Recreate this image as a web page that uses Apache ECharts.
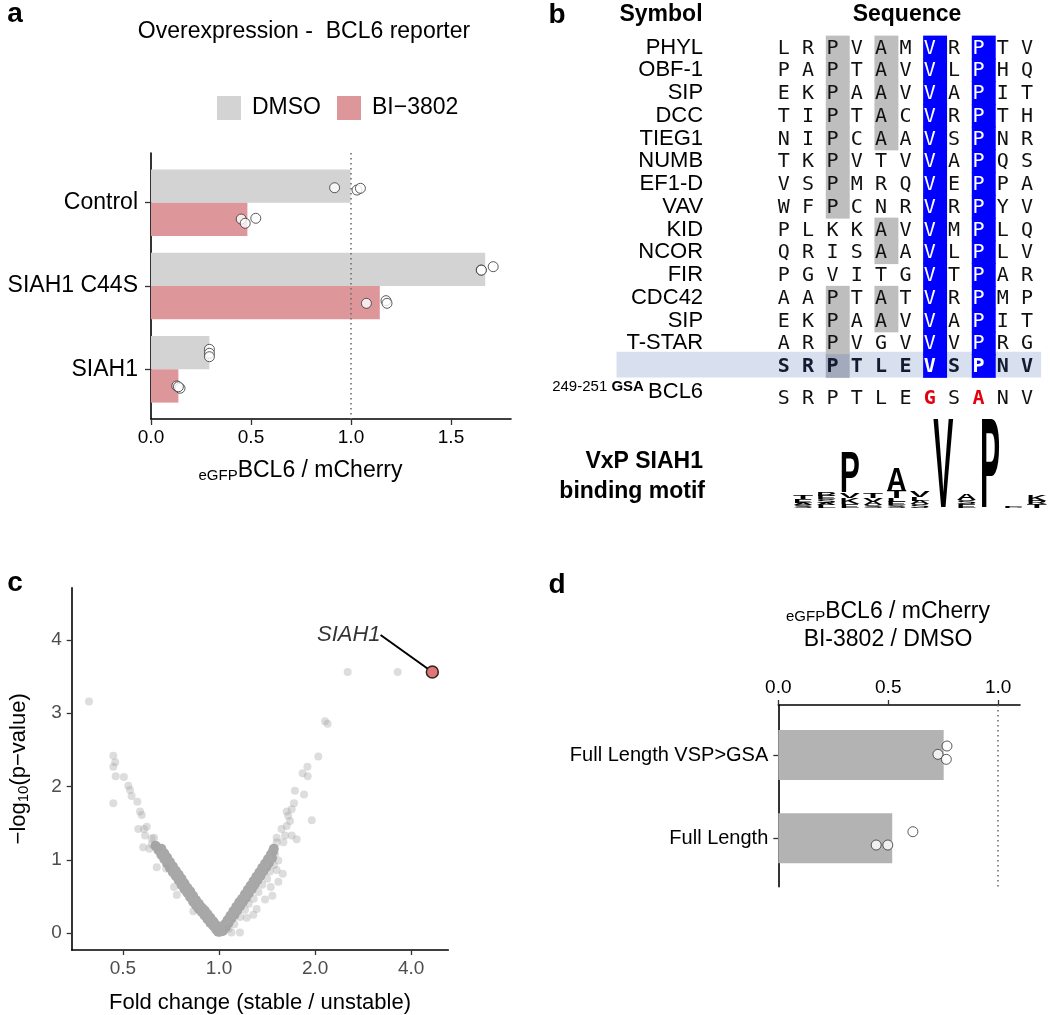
<!DOCTYPE html>
<html>
<head>
<meta charset="utf-8">
<script src="https://cdn.jsdelivr.net/npm/echarts@6/dist/echarts.min.js"></script>
<style>
  html, body { margin: 0; padding: 0; background: #fff; }
  #main { width: 1050px; height: 1015px; }
</style>
</head>
<body>
<div id="main"></div>
<script>
// ---- panel a : overexpression, BCL6 reporter
var aCategories = ['Control', 'SIAH1 C44S', 'SIAH1'];
var aDmso = [0.998, 1.671, 0.292];
var aBi = [0.482, 1.144, 0.137];
var aDmsoDots = [[0.918, 1.030, 1.047], [1.651, 1.652, 1.711], [0.292, 0.292, 0.292]];
var aDmsoJitter = [[-0.18, -0.152, -0.173], [-0.192, -0.19, -0.232], [-0.24, -0.192, -0.151]];
var aBiDots = [[0.451, 0.471, 0.524], [1.077, 1.175, 1.180], [0.129, 0.145, 0.137]];
var aBiJitter = [[0.196, 0.247, 0.187], [0.208, 0.176, 0.208], [0.2, 0.228, 0.21]];
var aTicks = [0, 0.5, 1, 1.5];

// ---- panel b : alignment + motif logo
var alignSymbols = ['PHYL', 'OBF-1', 'SIP', 'DCC', 'TIEG1', 'NUMB', 'EF1-D', 'VAV', 'KID', 'NCOR', 'FIR', 'CDC42', 'SIP', 'T-STAR', 'BCL6'];
var alignSeqs = ['LRPVAMVRPTV', 'PAPTAVVLPHQ', 'EKPAAVVAPIT', 'TIPTACVRPTH', 'NIPCAAVSPNR', 'TKPVTVVAPQS', 'VSPMRQVEPPA',
  'WFPCNRVRPYV', 'PLKKAVVMPLQ', 'QRISAAVLPLV', 'PGVITGVTPAR', 'AAPTATVRPMP', 'EKPAAVVAPIT', 'ARPVGVVVPRG', 'SRPTLEVSPNV'];
// g = grey box, b = blue box
var alignShade = ['..g.g.b.b..', '..g.g.b.b..', '..g.g.b.b..', '..g.g.b.b..', '..g.g.b.b..', '..g...b.b..', '..g...b.b..',
  '..g...b.b..', '....g.b.b..', '....g.b.b..', '......b.b..', '..g.g.b.b..', '..g.g.b.b..', '..g...b.b..', '..g...b.b..'];
var highlightRow = 14;
var gsaSeq = 'SRPTLEGSANV';
var gsaMarks = '......r.r..';
// motif logo, stacks bottom -> top, heights in bits
var logoColumns = [
  [['S', 0.10], ['A', 0.12], ['E', 0.14], ['T', 0.16]],
  [['L', 0.10], ['A', 0.12], ['S', 0.14], ['E', 0.14], ['R', 0.17]],
  [['E', 0.14], ['K', 0.28], ['V', 0.24], ['P', 1.79]],
  [['S', 0.12], ['A', 0.14], ['V', 0.18], ['T', 0.22]],
  [['S', 0.12], ['E', 0.14], ['L', 0.14], ['T', 0.33], ['A', 1.07]],
  [['S', 0.14], ['A', 0.16], ['L', 0.16], ['V', 0.30]],
  [['V', 4.0]],
  [['E', 0.14], ['S', 0.18], ['A', 0.30]],
  [['P', 4.0]],
  [['P', 0.05], ['E', 0.05]],
  [['T', 0.14], ['R', 0.14], ['K', 0.30]]
];

// ---- panel c : volcano, [log2 fold change, -log10 p]
var volcanoBulk = [
  [-0.01, 0.02], [-0.03, 0.05], [-0.06, 0.10], [-0.09, 0.14], [-0.12, 0.19], [-0.15, 0.24], [-0.18, 0.29], [-0.21, 0.33],
  [-0.24, 0.38], [-0.27, 0.43], [-0.30, 0.49], [-0.33, 0.55], [-0.36, 0.60], [-0.39, 0.66], [-0.42, 0.72], [-0.45, 0.78],
  [-0.48, 0.83], [-0.51, 0.89], [-0.54, 0.95], [-0.57, 1.01], [-0.60, 1.07], [-0.63, 1.13], [-0.66, 1.19],
  [0.00, 0.05], [-0.03, 0.11], [-0.06, 0.16], [-0.09, 0.21], [-0.12, 0.26], [-0.15, 0.31], [-0.18, 0.35], [-0.21, 0.40],
  [-0.24, 0.45], [-0.27, 0.51], [-0.30, 0.57], [-0.33, 0.62], [-0.36, 0.68], [-0.39, 0.74], [-0.42, 0.80], [-0.45, 0.85],
  [-0.48, 0.91], [-0.51, 0.97], [-0.54, 1.03], [-0.57, 1.09], [-0.60, 1.15],
  [0.01, 0.02], [0.03, 0.06], [0.06, 0.12], [0.09, 0.18], [0.12, 0.24], [0.15, 0.30], [0.18, 0.36], [0.21, 0.42],
  [0.24, 0.47], [0.27, 0.53], [0.30, 0.59], [0.33, 0.65], [0.36, 0.71], [0.39, 0.77], [0.42, 0.83], [0.45, 0.89],
  [0.48, 0.95], [0.51, 1.01], [0.54, 1.07], [0.56, 1.11], [0.57, 1.15],
  [0.04, 0.03], [0.07, 0.08], [0.10, 0.14], [0.13, 0.20], [0.16, 0.25], [0.19, 0.31], [0.22, 0.37], [0.25, 0.43],
  [0.28, 0.48], [0.31, 0.54], [0.34, 0.60], [0.37, 0.66], [0.40, 0.72], [0.43, 0.78], [0.46, 0.84], [0.49, 0.90],
  [0.52, 0.96], [0.55, 1.02]
];
var volcanoOther = [
  [-1.353, 3.16], [-1.10, 2.42], [-1.08, 2.33], [-1.10, 2.27], [-1.075, 2.14], [-0.99, 2.13], [-0.944, 2.01], [-0.926, 1.95],
  [-0.91, 1.87], [-0.85, 1.79], [-1.10, 1.77], [-0.822, 1.66], [-0.804, 1.61], [-0.84, 1.42], [-0.78, 1.42], [-0.752, 1.45],
  [-0.77, 1.33], [-0.70, 1.29], [-0.676, 1.30], [-0.79, 1.17], [-0.725, 1.15], [-0.70, 1.21], [-0.635, 1.17], [-0.648, 0.90],
  [-0.55, 0.88], [-0.468, 0.63], [-0.44, 0.52], [-0.267, 0.30],
  [1.339, 3.56], [1.859, 3.56], [1.103, 2.89], [1.13, 2.855], [1.033, 2.41], [0.92, 2.27], [0.87, 2.18], [0.923, 2.14],
  [0.79, 1.94], [0.885, 1.89], [0.78, 1.77], [0.965, 1.54], [0.756, 1.69], [0.704, 1.66], [0.72, 1.60], [0.739, 1.53],
  [0.704, 1.46], [0.65, 1.42], [0.60, 1.30], [0.687, 1.33], [0.756, 1.33], [0.808, 1.28], [0.60, 1.24], [0.67, 1.24],
  [0.583, 1.08], [0.617, 0.99], [0.60, 0.86], [0.663, 0.81], [0.617, 0.70], [0.538, 0.63], [0.555, 0.51], [0.479, 0.46],
  [0.392, 0.33], [0.357, 0.25], [0.288, 0.21], [0.218, 0.01], [0.13, 0.01],
  [0.10, 0.06], [0.16, 0.12], [0.22, 0.22], [0.27, 0.32], [0.31, 0.40], [0.36, 0.47], [0.41, 0.56], [0.45, 0.66],
  [0.50, 0.74], [0.53, 0.84], [0.57, 0.93]
];
var volcanoSiah1 = [2.22, 3.56];
var cXTicks = [-1, 0, 1, 2];
var cYTicks = [0, 1, 2, 3, 4];

// ---- panel d : BI-3802 / DMSO ratio
var dCategories = ['Full Length VSP>GSA', 'Full Length'];
var dRatio = [0.752, 0.518];
var dDots = [[0.767, 0.726, 0.764], [0.612, 0.445, 0.498]];
var dJitter = [[-0.108, -0.008, 0.052], [-0.08, 0.08, 0.08]];
var dTicks = [0, 0.5, 1];

var fontFamily = 'Liberation Sans';
var myChart = echarts.init(document.getElementById('main'));

function hBar(offset, half) {
  return function (params, api) {
    var p0 = api.coord([0, api.value(1) + offset - half]);
    var p1 = api.coord([api.value(0), api.value(1) + offset + half]);
    return {
      type: 'rect',
      shape: { x: p0[0], y: Math.min(p0[1], p1[1]), width: p1[0] - p0[0], height: Math.abs(p1[1] - p0[1]) },
      style: { fill: api.visual('color') }
    };
  };
}

function dots(values, jitter) {
  var out = [];
  values.forEach(function (row, i) {
    row.forEach(function (v, j) { out.push([v, i + 1 + jitter[i][j]]); });
  });
  return out;
}

var axisLineStyle = { color: '#000', width: 1.6 };
var tickStyle = { color: '#333', width: 1.3 };
var refLine = {
  silent: true, symbol: ['none', 'none'], label: { show: false },
  lineStyle: { type: [1.5, 3.5], color: '#6e6e6e', width: 1.6 },
  data: [{ xAxis: 1 }]
};
var dotStyle = { color: '#fff', borderColor: '#333', borderWidth: 1 };

// alignment cells
var cells = [];
alignSeqs.forEach(function (seq, r) {
  for (var c = 0; c < seq.length; c++) {
    cells.push({ col: c, row: r, letter: seq[c], shade: alignShade[r][c], hl: r === highlightRow });
  }
});
for (var c = 0; c < gsaSeq.length; c++) {
  cells.push({ col: c, row: 15.4, letter: gsaSeq[c], shade: gsaMarks[c], hl: false });
}
var alignRows = alignSymbols.map(function (s, i) { return i; }).concat([15.4]);

// logo stacks
var logoItems = [];
logoColumns.forEach(function (stack, c) {
  var base = 0;
  stack.forEach(function (s) {
    logoItems.push({ col: c, y0: base, y1: base + s[1], letter: s[0] });
    base += s[1];
  });
});
var glyphWidth = { A: 0.722, E: 0.667, I: 0.278, K: 0.722, L: 0.611, P: 0.667, R: 0.722, S: 0.667, T: 0.611, V: 0.667 };

var option = {
  animation: false,
  backgroundColor: '#fff',
  textStyle: { fontFamily: fontFamily },
  legend: {
    data: ['DMSO', 'BI\u22123802'],
    left: 212, top: 91,
    icon: 'rect', itemWidth: 24, itemHeight: 24, itemGap: 16,
    textStyle: { fontSize: 23, color: '#000', fontFamily: fontFamily, padding: [0, 0, 0, 6] }
  },
  grid: [
    { left: 151, top: 153, width: 360, height: 266 },
    { left: 71.7, top: 587.7, width: 376.6, height: 368.3 },
    { left: 778.3, top: 705, width: 241.7, height: 181.7 },
    { left: 777.1, top: 36.1, width: 267.7, height: 373.1 },
    { left: 791.3, top: 412, width: 257.1, height: 95.7 }
  ],
  xAxis: [
    {
      gridIndex: 0, type: 'value', min: 0, max: 1.8,
      axisLine: { show: true, onZero: false, lineStyle: axisLineStyle },
      axisTick: { show: true, length: 6, lineStyle: tickStyle, customValues: aTicks },
      axisLabel: { customValues: aTicks, formatter: function (v) { return v.toFixed(1); }, fontSize: 19, color: '#000', margin: 9 },
      splitLine: { show: false },
      name: '{s|eGFP}{m|BCL6 / mCherry}', nameLocation: 'middle', nameGap: 39,
      nameTextStyle: {
        color: '#000', padding: [0, 61, 0, 0],
        rich: { s: { fontSize: 15, padding: [10, 0, 0, 0], fontFamily: fontFamily }, m: { fontSize: 23, fontFamily: fontFamily } }
      }
    },
    {
      gridIndex: 1, type: 'value', min: -1.533, max: 2.386,
      axisLine: { show: true, onZero: false, lineStyle: axisLineStyle },
      axisTick: { show: true, length: 5, lineStyle: tickStyle, customValues: cXTicks },
      axisLabel: { customValues: cXTicks, formatter: function (v) { return Math.pow(2, v).toFixed(1); }, fontSize: 19, color: '#4d4d4d', margin: 9 },
      splitLine: { show: false },
      name: 'Fold change (stable / unstable)', nameLocation: 'middle', nameGap: 42,
      nameTextStyle: { fontSize: 22, color: '#000' }
    },
    {
      gridIndex: 2, type: 'value', min: 0, max: 1.099, position: 'top',
      axisLine: { show: true, onZero: false, lineStyle: axisLineStyle },
      axisTick: { show: true, length: 5, lineStyle: tickStyle, customValues: dTicks },
      axisLabel: { customValues: dTicks, formatter: function (v) { return v.toFixed(1); }, fontSize: 19, color: '#000', margin: 8 },
      splitLine: { show: false }
    },
    { gridIndex: 3, type: 'value', min: -0.5, max: 10.5, show: false },
    { gridIndex: 4, type: 'value', min: -0.5, max: 10.5, show: false }
  ],
  yAxis: [
    {
      gridIndex: 0, type: 'value', inverse: true, min: 0.403, max: 3.597,
      axisLine: { show: true, onZero: false, lineStyle: axisLineStyle },
      axisTick: { show: true, length: 6, lineStyle: tickStyle, customValues: [1, 2, 3] },
      axisLabel: { customValues: [1, 2, 3], formatter: function (v) { return aCategories[Math.round(v) - 1]; }, fontSize: 23, color: '#000', margin: 13 },
      splitLine: { show: false }
    },
    {
      gridIndex: 1, type: 'value', min: -0.23, max: 4.71,
      axisLine: { show: true, onZero: false, lineStyle: axisLineStyle },
      axisTick: { show: true, length: 5, lineStyle: tickStyle, customValues: cYTicks },
      axisLabel: { customValues: cYTicks, formatter: function (v) { return String(v); }, fontSize: 19, color: '#4d4d4d', margin: 10 },
      splitLine: { show: false },
      name: '\u2212log{s|10}(p\u2212value)', nameLocation: 'middle', nameGap: 40, nameRotate: 90,
      nameTextStyle: {
        fontSize: 22, color: '#000',
        rich: { s: { fontSize: 15, padding: [10, 0, 0, 0], fontFamily: fontFamily } }
      }
    },
    {
      gridIndex: 2, type: 'value', inverse: true, min: 0.4, max: 2.58,
      axisLine: { show: true, onZero: false, lineStyle: axisLineStyle },
      axisTick: { show: true, length: 5, lineStyle: tickStyle, customValues: [1, 2] },
      axisLabel: { customValues: [1, 2], formatter: function (v) { return dCategories[Math.round(v) - 1]; }, fontSize: 20, color: '#000', margin: 10 },
      splitLine: { show: false }
    },
    {
      gridIndex: 3, type: 'value', inverse: true, min: -0.5, max: 15.9,
      axisLine: { show: false }, axisTick: { show: false }, splitLine: { show: false },
      axisLabel: {
        customValues: alignRows, margin: 74, fontSize: 22, color: '#000',
        formatter: function (v) {
          if (v > 15) return '{n|249-251 }{b|GSA }{m|BCL6}';
          return alignSymbols[Math.round(v)];
        },
        rich: {
          n: { fontSize: 15, padding: [0, 0, 22, 0], fontFamily: fontFamily, color: '#000' },
          b: { fontSize: 15, fontWeight: 'bold', padding: [0, 0, 22, 0], fontFamily: fontFamily, color: '#000' },
          m: { fontSize: 22, padding: [0, 0, 12, 0], fontFamily: fontFamily, color: '#000' }
        }
      }
    },
    { gridIndex: 4, type: 'value', min: 0, max: 4.2, show: false }
  ],
  series: [
    {
      name: 'DMSO', type: 'custom', xAxisIndex: 0, yAxisIndex: 0,
      itemStyle: { color: '#d3d3d3' }, renderItem: hBar(-0.2, 0.2),
      encode: { x: 0, y: 1 }, data: aDmso.map(function (v, i) { return [v, i + 1]; })
    },
    {
      name: 'BI\u22123802', type: 'custom', xAxisIndex: 0, yAxisIndex: 0,
      itemStyle: { color: '#dd979b' }, renderItem: hBar(0.2, 0.2),
      encode: { x: 0, y: 1 }, data: aBi.map(function (v, i) { return [v, i + 1]; })
    },
    {
      type: 'scatter', xAxisIndex: 0, yAxisIndex: 0, symbolSize: 10, itemStyle: dotStyle, z: 5,
      data: dots(aDmsoDots, aDmsoJitter).concat(dots(aBiDots, aBiJitter)), markLine: refLine
    },
    {
      type: 'scatter', xAxisIndex: 1, yAxisIndex: 1, symbolSize: 10,
      itemStyle: { color: '#a8a8a8', opacity: 1 }, data: volcanoBulk
    },
    {
      type: 'scatter', xAxisIndex: 1, yAxisIndex: 1, symbolSize: 8,
      itemStyle: { color: 'rgba(160,160,160,0.45)' }, data: volcanoOther
    },
    {
      type: 'scatter', xAxisIndex: 1, yAxisIndex: 1, symbolSize: 12, z: 6,
      itemStyle: { color: '#d55451', borderColor: '#000', borderWidth: 1.5 },
      data: [volcanoSiah1],
      label: { show: true, formatter: 'SIAH1', position: 'left', fontSize: 22, fontStyle: 'italic', color: '#000' },
      labelLayout: { dx: -40, dy: -37 },
      labelLine: { show: true, lineStyle: { color: '#000', width: 2 } }
    },
    {
      type: 'custom', xAxisIndex: 2, yAxisIndex: 2,
      itemStyle: { color: '#b3b3b3' }, renderItem: hBar(0, 0.3),
      encode: { x: 0, y: 1 }, data: dRatio.map(function (v, i) { return [v, i + 1]; })
    },
    {
      type: 'scatter', xAxisIndex: 2, yAxisIndex: 2, symbolSize: 10, itemStyle: dotStyle, z: 5,
      data: dots(dDots, dJitter), markLine: refLine
    },
    {
      // BCL6 highlight band
      type: 'custom', xAxisIndex: 3, yAxisIndex: 3, clip: false, z: 1,
      data: [[highlightRow]],
      renderItem: function (params, api) {
        var p0 = api.coord([-7.1, api.value(0) - 0.62]);
        var p1 = api.coord([10.35, api.value(0) + 0.51]);
        return { type: 'rect', shape: { x: p0[0], y: p0[1], width: p1[0] - p0[0], height: p1[1] - p0[1] }, style: { fill: '#d8e0ef' } };
      }
    },
    {
      type: 'custom', xAxisIndex: 3, yAxisIndex: 3, clip: false, z: 2,
      data: cells.map(function (c) { return [c.col, c.row]; }),
      renderItem: function (params, api) {
        var cell = cells[params.dataIndex];
        var p = api.coord([api.value(0), api.value(1)]);
        var s = api.size([1, 1]);
        var kids = [];
        if (cell.shade === 'g' || cell.shade === 'b') {
          kids.push({
            type: 'rect',
            shape: { x: p[0] - s[0] / 2, y: p[1] - s[1] / 2 - 0.5, width: s[0] - 0.4, height: s[1] + 1 },
            style: { fill: cell.shade === 'b' ? '#0000ff' : (cell.hl ? '#a3aabb' : '#bebebe') }
          });
        }
        var fill = '#111';
        var weight = 'normal';
        if (cell.shade === 'b') fill = '#fff';
        else if (cell.shade === 'r') fill = '#e3000f';
        else if (cell.hl) fill = '#141b30';
        if (cell.hl || cell.shade === 'r') weight = 'bold';
        kids.push({
          type: 'text', x: p[0] - 5.5, y: p[1] + 1,
          style: { text: cell.letter, fontFamily: 'DejaVu Sans Mono', fontSize: 20, fontWeight: weight, fill: fill, align: 'center', verticalAlign: 'middle' }
        });
        return { type: 'group', children: kids };
      }
    },
    {
      type: 'custom', xAxisIndex: 4, yAxisIndex: 4, clip: false,
      data: logoItems.map(function (it) { return [it.col, it.y0, it.y1]; }),
      renderItem: function (params, api) {
        var it = logoItems[params.dataIndex];
        var p0 = api.coord([api.value(0) - 0.43, api.value(1)]);
        var p1 = api.coord([api.value(0) + 0.43, api.value(2)]);
        var F = 20;
        var sy = (p0[1] - p1[1]) / (0.716 * F);
        var sx = (p1[0] - p0[0]) / (glyphWidth[it.letter] * F);
        return {
          type: 'text', x: (p0[0] + p1[0]) / 2, y: p0[1] + 0.215 * F * sy, scaleX: sx, scaleY: sy,
          style: { text: it.letter, fontFamily: fontFamily, fontWeight: 'bold', fontSize: F, fill: '#000', align: 'center', verticalAlign: 'bottom' }
        };
      }
    }
  ],
  graphic: [
    { type: 'text', x: 15, y: 14, style: { text: 'a', fontSize: 28, fontWeight: 'bold', fontFamily: fontFamily, fill: '#000', align: 'center', verticalAlign: 'middle' } },
    { type: 'text', x: 557, y: 15, style: { text: 'b', fontSize: 28, fontWeight: 'bold', fontFamily: fontFamily, fill: '#000', align: 'center', verticalAlign: 'middle' } },
    { type: 'text', x: 15, y: 583, style: { text: 'c', fontSize: 28, fontWeight: 'bold', fontFamily: fontFamily, fill: '#000', align: 'center', verticalAlign: 'middle' } },
    { type: 'text', x: 557, y: 585, style: { text: 'd', fontSize: 28, fontWeight: 'bold', fontFamily: fontFamily, fill: '#000', align: 'center', verticalAlign: 'middle' } },
    { type: 'text', x: 304, y: 32, style: { text: 'Overexpression -  BCL6 reporter', fontSize: 23, fontFamily: fontFamily, fill: '#000', align: 'center', verticalAlign: 'middle' } },
    { type: 'text', x: 661, y: 15, style: { text: 'Symbol', fontSize: 23, fontWeight: 'bold', fontFamily: fontFamily, fill: '#000', align: 'center', verticalAlign: 'middle' } },
    { type: 'text', x: 907, y: 15, style: { text: 'Sequence', fontSize: 23, fontWeight: 'bold', fontFamily: fontFamily, fill: '#000', align: 'center', verticalAlign: 'middle' } },
    { type: 'text', x: 703, y: 462, style: { text: 'VxP SIAH1', fontSize: 23, fontWeight: 'bold', fontFamily: fontFamily, fill: '#000', align: 'right', verticalAlign: 'middle' } },
    { type: 'text', x: 705, y: 492, style: { text: 'binding motif', fontSize: 23, fontWeight: 'bold', fontFamily: fontFamily, fill: '#000', align: 'right', verticalAlign: 'middle' } },
    {
      type: 'text', x: 888, y: 612,
      style: {
        text: '{s|eGFP}{m|BCL6 / mCherry}', align: 'center', verticalAlign: 'middle', fill: '#000',
        rich: { s: { fontSize: 15, padding: [10, 0, 0, 0], fontFamily: fontFamily }, m: { fontSize: 23, fontFamily: fontFamily } }
      }
    },
    { type: 'text', x: 888, y: 640, style: { text: 'BI-3802 / DMSO', fontSize: 23, fontFamily: fontFamily, fill: '#000', align: 'center', verticalAlign: 'middle' } }
  ]
};

myChart.setOption(option);
</script>
</body>
</html>
